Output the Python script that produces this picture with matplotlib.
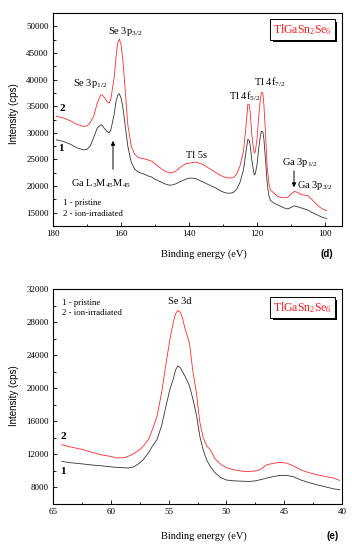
import matplotlib
matplotlib.use('Agg')
import matplotlib.pyplot as plt
import matplotlib.transforms as mtransforms
from matplotlib.patches import Rectangle
from matplotlib.ticker import MultipleLocator

plt.rcParams['font.family'] = ['Liberation Serif', 'DejaVu Serif']
plt.rcParams['mathtext.fontset'] = 'custom'
plt.rcParams['mathtext.rm'] = 'Liberation Serif'
plt.rcParams['mathtext.it'] = 'Liberation Serif:italic'

# panel (d): Se 3p / Tl 4f / Ga 3p region
e_d = [179, 177, 175, 173, 171, 170, 169, 168, 167, 166, 165.5, 165, 164, 163.5, 163,
       162, 161.5, 161, 160.5, 160, 159.5, 159, 158, 157, 156, 155, 154, 153, 152, 151,
       150, 149, 148, 147, 146, 145, 144, 143, 142, 141, 140, 139, 138, 137, 136, 135,
       134, 133, 132, 131, 130, 129, 128, 127, 126, 125, 124, 123.5, 123, 122.7, 122.3,
       122, 121.5, 121, 120.8, 120.5, 120, 119.5, 119, 118.7, 118.3, 118, 117.5, 117,
       116.5, 116, 115, 114, 113, 112, 111, 110, 109, 108, 107, 106, 105, 104, 103, 102,
       101, 100, 99.5]
pristine_d = [28700, 28400, 27900, 27200, 26800, 26900, 27600, 29200, 30900, 31500, 31400,
              30900, 30200, 30000, 30500, 33500, 35800, 37000, 37350, 36600, 35000, 32500,
              27500, 24500, 23200, 22700, 22400, 22200, 21900, 21700, 21300, 21000, 20700,
              20400, 20200, 20200, 20400, 20700, 21000, 21300, 21500, 21500, 21400, 21100,
              20800, 20500, 20200, 19900, 19600, 19200, 18900, 18700, 18650, 18800, 19400,
              20700, 23000, 25200, 27500, 28800, 28600, 27600, 24800, 22800, 22100, 22300,
              24000, 27000, 29500, 30300, 30200, 29000, 25000, 20500, 18200, 17300, 16800,
              16500, 16200, 15900, 15700, 16000, 16300, 16100, 15900, 15700, 15500, 15100,
              14800, 14500, 14200, 14000, 13900]
irradiated_d = [33100, 32800, 32300, 31600, 31200, 31300, 32000, 33200, 35600, 37100, 37150,
                36700, 35800, 35600, 36300, 40500, 44000, 46800, 47650, 46600, 44000, 40000,
                31500, 27500, 26000, 25400, 25200, 25100, 24900, 24700, 24200, 23700, 23200,
                22800, 22500, 22500, 22800, 23300, 23800, 24200, 24300, 24400, 24500, 24300,
                24100, 23700, 23300, 22900, 22500, 22100, 21800, 21600, 21500, 21600, 22200,
                23800, 26500, 29500, 33000, 35400, 35300, 33800, 29500, 26800, 26200, 26500,
                28800, 33000, 36500, 37600, 37500, 35500, 30000, 23500, 20500, 19200, 18700,
                18100, 17900, 17800, 17900, 18500, 19000, 18800, 18400, 18300, 18200, 17600,
                16900, 16300, 15800, 15500, 15400]

# panel (e): Se 3d region
e_e = [64.25, 63.5, 62.4, 61.5, 60.9, 60, 59.5, 58.8, 58.5, 58, 57.5, 57.2, 56.75, 56.4,
       56, 55.6, 55.2, 54.9, 54.6, 54.4, 54.2, 54, 53.8, 53.6, 53.2, 52.9, 52.6, 52.3,
       52, 51.7, 51.4, 51, 50.5, 50, 49.4, 49, 48.5, 48, 47.5, 47.1, 46.5, 46, 45.4,
       44.8, 44.2, 43.6, 43, 42.2, 41.5, 40.75, 40.2]
pristine_e = [11150, 11000, 10840, 10700, 10630, 10500, 10430, 10380, 10350, 10500, 10960,
              11360, 12170, 13000, 13800, 15500, 18000, 19800, 21100, 22200, 22700, 22500,
              22000, 21500, 20300, 18700, 16800, 14200, 12500, 11300, 10550, 9800, 9200,
              8900, 8810, 8780, 8750, 8730, 8800, 8930, 9140, 9300, 9460, 9460, 9300, 8930,
              8650, 8330, 8100, 7840, 7720]
irradiated_e = [13180, 12900, 12580, 12200, 11970, 11750, 11570, 11600, 11770, 12100, 12580,
                12980, 13790, 15000, 16600, 19500, 23200, 25800, 27950, 29000, 29400, 29200,
                28500, 27300, 25500, 22000, 19500, 15900, 14000, 13000, 12580, 11500, 10800,
                10400, 10150, 10050, 9950, 9940, 10000, 10150, 10750, 10900, 11030, 10960,
                10600, 10150, 9850, 9540, 9350, 9140, 8850]

red = '#ff2a2a'
dark = '#333333'


def style_axes(ax):
    ax.tick_params(which='both', direction='in', labelsize=6.5, width=0.6, pad=3)
    ax.tick_params(which='major', length=3)
    ax.tick_params(which='minor', length=1.8)
    for s in ax.spines.values():
        s.set_linewidth(0.8)


def formula_box(ax, x, y):
    txt = r'TlGaSn$_{\mathrm{2}}$Se$_{\mathrm{6}}$'
    label = ax.text(x, y, txt, transform=ax.transAxes, ha='center', va='center', fontsize=8.5,
                    color='#ff1a1a', zorder=5,
                    bbox=dict(boxstyle='square,pad=0.25', fc='white', ec='black', lw=0.7))
    ax.figure.canvas.draw()
    bb = label.get_bbox_patch().get_window_extent()
    # drop shadow behind the box
    ax.add_patch(Rectangle((bb.x0 + 2.5, bb.y0 - 2.5), bb.width, bb.height, fc='black', ec='none',
                           transform=mtransforms.IdentityTransform(), zorder=4, clip_on=False))


fig = plt.figure(figsize=(3.52, 5.5), dpi=100)

# ---- top panel (d)
ax1 = fig.add_axes([0.1506, 0.589, 0.821, 0.3873])
ax1.plot(e_d, pristine_d, color=dark, lw=0.6)
ax1.plot(e_d, irradiated_d, color=red, lw=0.6)
ax1.set_xlim(180, 95)
ax1.set_ylim(12500, 52500)
ax1.xaxis.set_major_locator(MultipleLocator(20))
ax1.xaxis.set_minor_locator(MultipleLocator(10))
ax1.yaxis.set_major_locator(MultipleLocator(5000))
ax1.yaxis.set_minor_locator(MultipleLocator(2500))
style_axes(ax1)

t = ax1.transAxes
fs = 7.5
ax1.text(0.128, 0.671, r'Se 3p$_{\mathrm{1/2}}$', transform=t, ha='center', va='center', fontsize=fs)
ax1.text(0.249, 0.915, r'Se 3p$_{\mathrm{3/2}}$', transform=t, ha='center', va='center', fontsize=fs)
ax1.text(0.664, 0.610, r'Tl 4f$_{\mathrm{5/2}}$', transform=t, ha='center', va='center', fontsize=fs)
ax1.text(0.751, 0.676, r'Tl 4f$_{\mathrm{7/2}}$', transform=t, ha='center', va='center', fontsize=fs)
ax1.text(0.495, 0.333, 'Tl 5s', transform=t, ha='center', va='center', fontsize=fs)
ax1.text(0.165, 0.200, r'Ga L$_{\mathrm{3}}$M$_{\mathrm{45}}$M$_{\mathrm{45}}$', transform=t,
         ha='center', va='center', fontsize=fs)
ax1.text(0.855, 0.296, r'Ga 3p$_{\mathrm{1/2}}$', transform=t, ha='center', va='center', fontsize=fs)
ax1.text(0.905, 0.190, r'Ga 3p$_{\mathrm{3/2}}$', transform=t, ha='center', va='center', fontsize=fs)
ax1.annotate('', xy=(0.2076, 0.413), xytext=(0.2076, 0.2535), xycoords=t, textcoords=t,
             arrowprops=dict(arrowstyle='-|>', color='black', lw=0.7, mutation_scale=6))
ax1.annotate('', xy=(0.834, 0.169), xytext=(0.834, 0.272), xycoords=t, textcoords=t,
             arrowprops=dict(arrowstyle='-|>', color='black', lw=0.7, mutation_scale=6))
ax1.text(0.035, 0.108, '1 - pristine', transform=t, ha='left', va='center', fontsize=6.3)
ax1.text(0.035, 0.056, '2 - ion-irradiated', transform=t, ha='left', va='center', fontsize=6.3)
ax1.text(0.031, 0.554, '2', transform=t, ha='center', va='center', fontsize=8, fontweight='bold')
ax1.text(0.028, 0.362, '1', transform=t, ha='center', va='center', fontsize=8, fontweight='bold')

# ---- bottom panel (e)
ax2 = fig.add_axes([0.1506, 0.0836, 0.821, 0.391])
ax2.plot(e_e, pristine_e, color=dark, lw=0.6)
ax2.plot(e_e, irradiated_e, color=red, lw=0.6)
ax2.set_xlim(65, 40)
ax2.set_ylim(6000, 32000)
ax2.xaxis.set_major_locator(MultipleLocator(5))
ax2.xaxis.set_minor_locator(MultipleLocator(2.5))
ax2.yaxis.set_major_locator(MultipleLocator(4000))
ax2.yaxis.set_minor_locator(MultipleLocator(2000))
style_axes(ax2)

t = ax2.transAxes
ax2.text(0.439, 0.940, 'Se 3d', transform=t, ha='center', va='center', fontsize=fs)
ax2.text(0.031, 0.935, '1 - pristine', transform=t, ha='left', va='center', fontsize=6.3)
ax2.text(0.031, 0.888, '2 - ion-irradiated', transform=t, ha='left', va='center', fontsize=6.3)
ax2.text(0.035, 0.312, '2', transform=t, ha='center', va='center', fontsize=8, fontweight='bold')
ax2.text(0.035, 0.153, '1', transform=t, ha='center', va='center', fontsize=8, fontweight='bold')

# ---- shared labels
for yc in (0.793, 0.28):
    fig.text(0.04, yc, 'Intensity (cps)', rotation=90, ha='center', va='center',
             fontsize=7, family='Liberation Sans')
fig.text(0.58, 0.538, 'Binding energy (eV)', ha='center', va='center', fontsize=7.5)
fig.text(0.58, 0.0255, 'Binding energy (eV)', ha='center', va='center', fontsize=7.5)
fig.text(0.928, 0.538, '(d)', ha='center', va='center', fontsize=7, fontweight='bold',
         family='Liberation Sans')
fig.text(0.946, 0.0255, '(e)', ha='center', va='center', fontsize=7, fontweight='bold',
         family='Liberation Sans')

formula_box(ax1, 0.863, 0.9225)
formula_box(ax2, 0.863, 0.914)

fig.savefig('out.png', dpi=100)
